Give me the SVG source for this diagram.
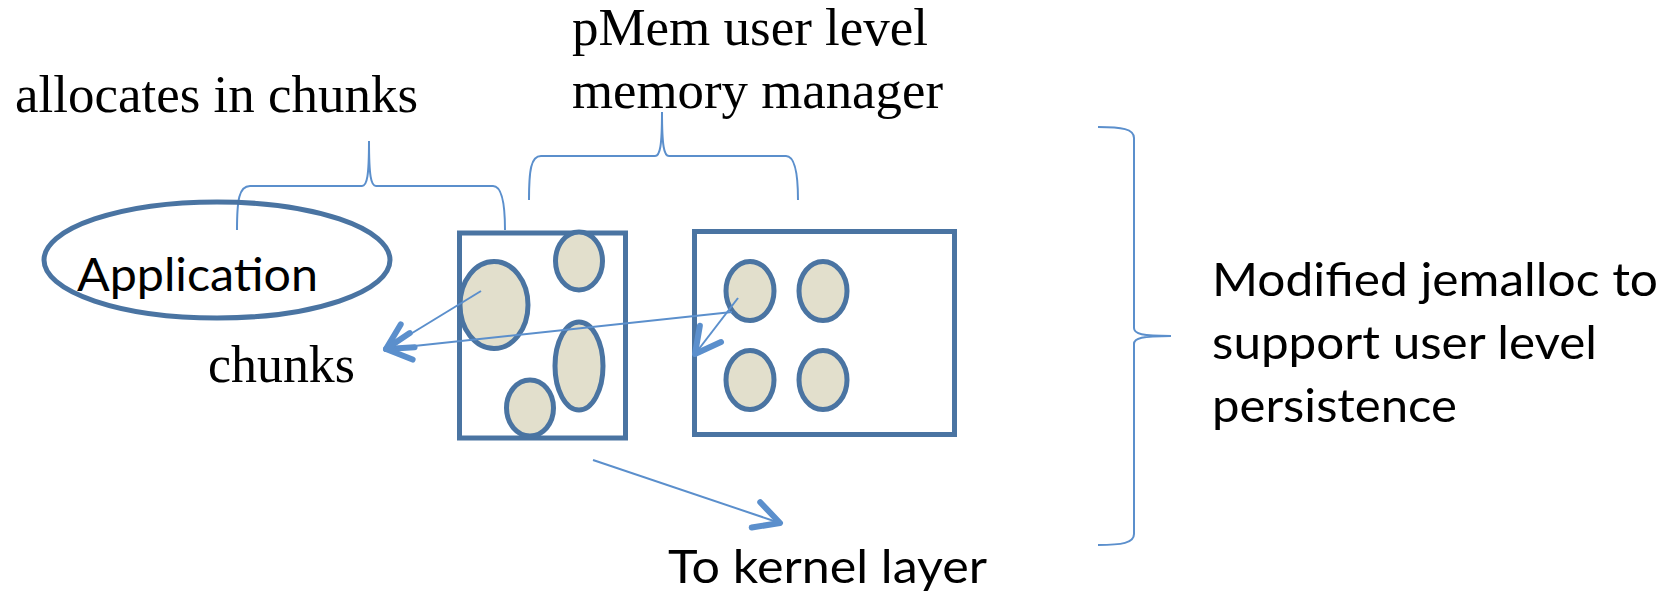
<svg xmlns="http://www.w3.org/2000/svg" width="1677" height="596" viewBox="0 0 1677 596">
  <style>
    .shape { fill: none; stroke: #4A74A2; stroke-width: 5; }
    .chunk { fill: #E2DFCC; stroke: #4A74A2; stroke-width: 5; }
    .brace { fill: none; stroke: #5B8FCC; stroke-width: 2; }
    .conn { fill: none; stroke: #5B8FCC; stroke-width: 2; marker-end: url(#arrow); }
    .serif { font-family: "Liberation Serif", "Times New Roman", serif; font-size: 53px; fill: #000; }
    .sans { font-family: Lato, "Open Sans", "Liberation Sans", sans-serif; font-size: 47px; fill: #000; }
  </style>
  <defs>
    <marker id="arrow" markerUnits="userSpaceOnUse" markerWidth="40" markerHeight="40" viewBox="-25 -15 30 30" refX="0" refY="0" orient="auto">
      <path d="M-19,-10 L0,0 L-19,10" fill="none" stroke="#5B8FCC" stroke-width="4.5" stroke-linecap="round" stroke-linejoin="round"/>
    </marker>
  </defs>
  <rect width="1677" height="596" fill="#fff"/>

  <g id="label-allocates">
    <text class="serif" x="15" y="112" textLength="403" lengthAdjust="spacingAndGlyphs">allocates in chunks</text>
  </g>
  <g id="label-pmem">
    <text class="serif" x="572" y="45" textLength="356" lengthAdjust="spacingAndGlyphs">pMem user level</text>
    <text class="serif" x="572" y="108" textLength="371" lengthAdjust="spacingAndGlyphs">memory manager</text>
  </g>
  <g id="braces">
    <path class="brace" d="M237,230 C237,200 239,186 250,186 L362,186 C367,186 369,176 369,141 C369,176 371,186 376,186 L493,186 C501,186 505,200 505,230"/>
    <path class="brace" d="M529,200 C529,170 531,156 541,156 L655,156 C660,156 662,146 662,112 C662,146 664,156 669,156 L786,156 C794,156 798,170 798,200"/>
    <path class="brace" d="M1098,127 C1122,127 1134,129 1134,138 L1134,328 C1134,334 1142,336 1171,336 C1142,336 1134,338 1134,344 L1134,534 C1134,543 1122,545 1098,545"/>
  </g>

  <g id="application">
    <ellipse class="shape" cx="217" cy="260" rx="173" ry="58"/>
    <text class="sans" x="77" y="291" textLength="241" lengthAdjust="spacingAndGlyphs">Application</text>
  </g>

  <g id="box1">
    <rect class="shape" x="459.5" y="233" width="166" height="205"/>
    <ellipse class="chunk" cx="494" cy="305" rx="34" ry="43.5"/>
    <ellipse class="chunk" cx="579" cy="261" rx="23.5" ry="29"/>
    <ellipse class="chunk" cx="579" cy="366" rx="24" ry="44"/>
    <ellipse class="chunk" cx="530" cy="408" rx="23.5" ry="28"/>
  </g>

  <g id="box2">
    <rect class="shape" x="694.5" y="231.5" width="260" height="203"/>
    <ellipse class="chunk" cx="750" cy="291" rx="24" ry="29.5"/>
    <ellipse class="chunk" cx="823" cy="291" rx="24" ry="29.5"/>
    <ellipse class="chunk" cx="750" cy="380" rx="24" ry="29.5"/>
    <ellipse class="chunk" cx="823" cy="380" rx="24" ry="29.5"/>
  </g>

  <g id="label-chunks">
    <text class="serif" x="208" y="382" textLength="147" lengthAdjust="spacingAndGlyphs">chunks</text>
  </g>

  <g id="connectors">
    <line class="conn" x1="481" y1="291" x2="386" y2="349"/>
    <line class="conn" x1="732" y1="312" x2="386" y2="349"/>
    <line class="conn" x1="738" y1="298" x2="695" y2="354"/>
    <line class="conn" x1="593" y1="460" x2="780" y2="523"/>
  </g>

  <g id="label-kernel">
    <text class="sans" x="668" y="583" textLength="319" lengthAdjust="spacingAndGlyphs">To kernel layer</text>
  </g>

  <g id="label-jemalloc">
    <text class="sans" x="1212" y="296" textLength="446" lengthAdjust="spacingAndGlyphs">Modified jemalloc to</text>
    <text class="sans" x="1212" y="359" textLength="385" lengthAdjust="spacingAndGlyphs">support user level</text>
    <text class="sans" x="1212" y="422" textLength="245" lengthAdjust="spacingAndGlyphs">persistence</text>
  </g>
</svg>
